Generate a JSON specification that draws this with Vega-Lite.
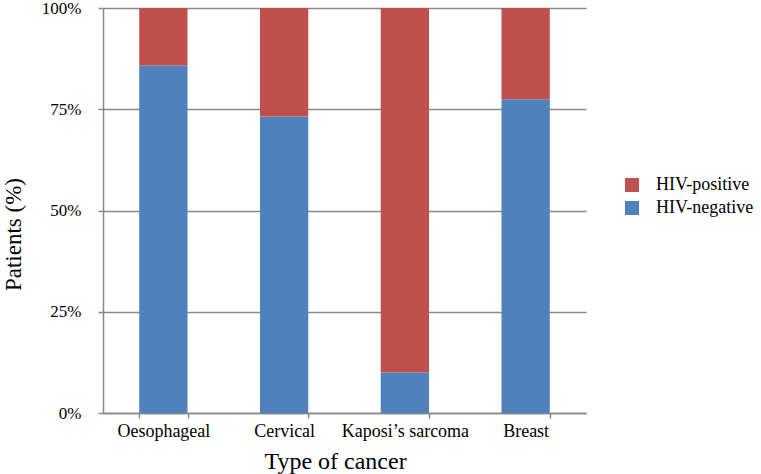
{
  "$schema": "https://vega.github.io/schema/vega-lite/v6.json",
  "autosize": {"type": "none"},
  "padding": {"left": 103, "top": 8, "right": 175, "bottom": 61},
  "width": 483,
  "height": 405,
  "background": "white",
  "config": {
    "font": "Liberation Serif",
    "axis": {"labelFont": "Liberation Serif", "titleFont": "Liberation Serif"},
    "legend": {"labelFont": "Liberation Serif"},
    "view": {"stroke": null}
  },
  "data": {
    "values": [
      {"cancer": "Oesophageal", "group": "HIV-negative", "pct": 85.8},
      {"cancer": "Oesophageal", "group": "HIV-positive", "pct": 14.2},
      {"cancer": "Cervical", "group": "HIV-negative", "pct": 73.2},
      {"cancer": "Cervical", "group": "HIV-positive", "pct": 26.8},
      {"cancer": "Kaposi’s sarcoma", "group": "HIV-negative", "pct": 10.0},
      {"cancer": "Kaposi’s sarcoma", "group": "HIV-positive", "pct": 90.0},
      {"cancer": "Breast", "group": "HIV-negative", "pct": 77.5},
      {"cancer": "Breast", "group": "HIV-positive", "pct": 22.5}
    ]
  },
  "mark": {"type": "bar"},
  "encoding": {
    "x": {
      "field": "cancer",
      "type": "nominal",
      "sort": ["Oesophageal", "Cervical", "Kaposi’s sarcoma", "Breast"],
      "scale": {"paddingInner": 0.6, "paddingOuter": 0.3},
      "axis": {
        "title": "Type of cancer",
        "titleFont": "Liberation Serif",
        "titleFontSize": 24,
        "titleFontWeight": "normal",
        "titleColor": "#000",
        "titleX": 232,
        "titleY": 55,
        "titleAlign": "center",
        "titleBaseline": "alphabetic",
        "labelAngle": 0,
        "labelFont": "Liberation Serif",
        "labelFontSize": 18,
        "labelColor": "#000",
        "labelPadding": 4,
        "tickBand": "extent",
        "tickSize": 5,
        "tickColor": "#888",
        "tickWidth": 1.5,
        "domainColor": "#888",
        "domainWidth": 1.5,
        "grid": false
      }
    },
    "y": {
      "field": "pct",
      "type": "quantitative",
      "stack": "zero",
      "scale": {"domain": [0, 100], "nice": false},
      "axis": {
        "title": "Patients (%)",
        "titleFont": "Liberation Serif",
        "titleFontSize": 23,
        "titleFontWeight": "normal",
        "titleColor": "#000",
        "titleX": -90,
        "titleY": 226,
        "titleAngle": -90,
        "titleAlign": "center",
        "titleBaseline": "middle",
        "values": [0, 25, 50, 75, 100],
        "labelExpr": "datum.value + '%'",
        "labelFont": "Liberation Serif",
        "labelFontSize": 17,
        "labelColor": "#000",
        "labelPadding": 17,
        "tickSize": 5,
        "tickColor": "#888",
        "tickWidth": 1.5,
        "domainColor": "#888",
        "domainWidth": 1.5,
        "grid": true,
        "gridColor": "#888",
        "gridWidth": 1.5
      }
    },
    "color": {
      "field": "group",
      "type": "nominal",
      "scale": {"domain": ["HIV-positive", "HIV-negative"], "range": ["#C0504D", "#4F81BD"]},
      "legend": {
        "title": null,
        "orient": "none",
        "legendX": 520,
        "legendY": 168,
        "symbolType": "square",
        "symbolSize": 196,
        "symbolStrokeWidth": 0,
        "labelFont": "Liberation Serif",
        "labelFontSize": 18,
        "labelColor": "#000",
        "labelOffset": 15,
        "rowPadding": 5
      }
    },
    "order": {"field": "group", "sort": "ascending"}
  }
}
